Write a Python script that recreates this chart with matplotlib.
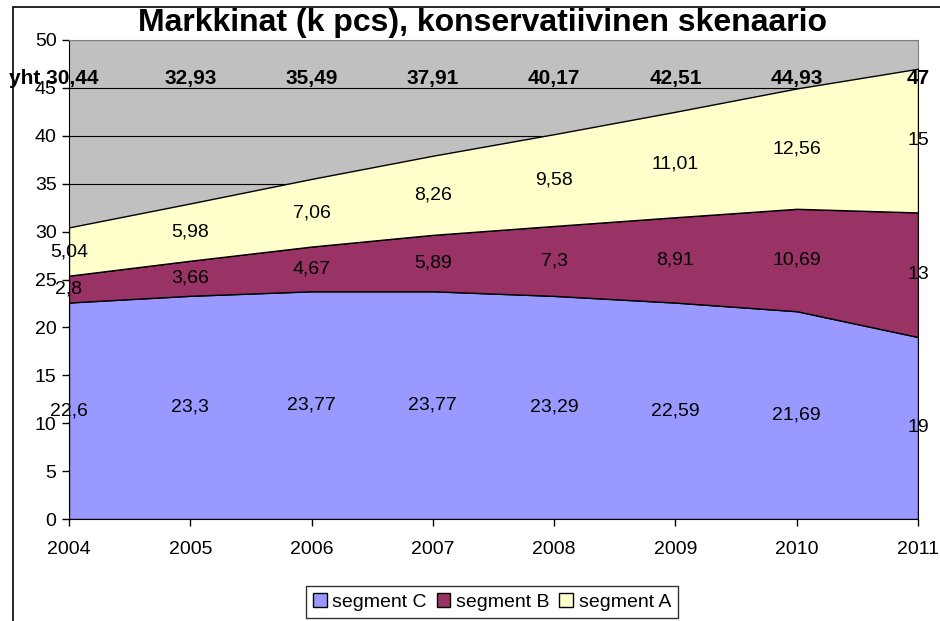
import matplotlib
matplotlib.use("Agg")
import matplotlib.pyplot as plt
from matplotlib.patches import Rectangle, Patch
import numpy as np

plt.rcParams['font.family'] = ['Liberation Sans', 'DejaVu Sans']

years = [2004, 2005, 2006, 2007, 2008, 2009, 2010, 2011]
seg_c = [22.6, 23.3, 23.77, 23.77, 23.29, 22.59, 21.69, 19]
seg_b = [2.8, 3.66, 4.67, 5.89, 7.3, 8.91, 10.69, 13]
seg_a = [5.04, 5.98, 7.06, 8.26, 9.58, 11.01, 12.56, 15]
totals = [30.44, 32.93, 35.49, 37.91, 40.17, 42.51, 44.93, 47]
title = "Markkinat (k pcs), konservatiivinen skenaario"
names = ["segment C", "segment B", "segment A"]
colors = ["#9999FF", "#993366", "#FFFFCC"]

FS = 14
FSB = 15


def fmt(v):
    s = ("%.2f" % v).rstrip('0').rstrip('.')
    return s.replace('.', ',')


fig = plt.figure(figsize=(9.4, 6.21), dpi=100)
ax = fig.add_axes([69/940, 1-519/621, (918-69)/940, (519-40)/621])
ax.set_facecolor("#C0C0C0")

x = np.arange(len(years))
c = np.array(seg_c)
b = np.array(seg_b)
a = np.array(seg_a)
bottoms = [np.zeros_like(c), c, c+b]
tops = [c, c+b, c+b+a]
for i, (lo, hi) in enumerate(zip(bottoms, tops)):
    ax.fill_between(x, lo, hi, facecolor=colors[i], edgecolor="black", linewidth=1.0, zorder=3)

ax.set_xlim(0, len(years)-1)
ax.set_ylim(0, 50)
ax.set_yticks(range(0, 51, 5))
ax.set_xticks(x)
ax.set_xticklabels([str(y) for y in years])
ax.yaxis.grid(True, color="black", linewidth=0.8, zorder=1)
ax.set_axisbelow(True)
ax.tick_params(axis='both', direction='out', length=5, width=1, labelsize=FS, color='black')
ax.tick_params(axis='x', pad=11)
ax.tick_params(axis='y', pad=4)
for s in ['top', 'right']:
    ax.spines[s].set_color("#808080")
for s in ['left', 'bottom']:
    ax.spines[s].set_color("black")

# segment labels
for vals, lo in zip([seg_c, seg_b, seg_a], bottoms):
    for xi, v, l in zip(x, vals, lo):
        ax.text(xi, l + v/2, fmt(v), ha='center', va='center', fontsize=FS, zorder=5)

# totals
for xi, t in zip(x, totals):
    lab = fmt(t)
    if xi == 0:
        ax.annotate("yht " + lab, (xi, 46), xytext=(-11, 0), textcoords='offset points',
                    ha='center', va='center', fontsize=FSB, fontweight='bold', zorder=6,
                    annotation_clip=False)
    else:
        ax.text(xi, 46, lab, ha='center', va='center', fontsize=FSB, fontweight='bold', zorder=6)

fig.text(482/940, 1-23/621, title, ha='center', va='center', fontsize=23, fontweight='bold')

# outer frame
fig.patches.append(Rectangle((13/940, -0.1), 1.2, 1-7/621+0.1, transform=fig.transFigure,
                             fill=False, edgecolor='black', linewidth=1.2))

handles = [Patch(facecolor=col, edgecolor='black', label=n) for col, n in zip(colors, names)]
leg = fig.legend(handles=handles, loc='center', bbox_to_anchor=(492/940, 1-602/621), ncol=3,
                 frameon=True, fancybox=False, fontsize=FS, handlelength=0.7, handleheight=0.7,
                 handletextpad=0.3, columnspacing=0.5, borderpad=0.35)
leg.get_frame().set_edgecolor('black')
leg.get_frame().set_linewidth(1)

fig.savefig("out.png", dpi=100)
